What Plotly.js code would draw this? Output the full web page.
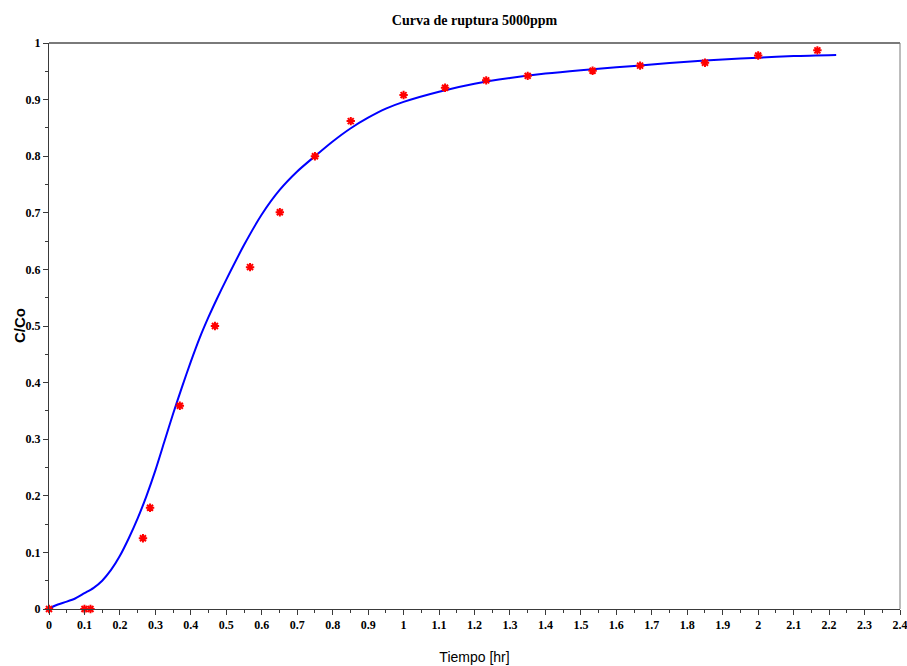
<!DOCTYPE html>
<html>
<head>
<meta charset="utf-8">
<script src="https://cdn.plot.ly/plotly-3.0.1.min.js"></script>
<style>
  html, body { margin: 0; padding: 0; background: #ffffff; }
  #chart { width: 907px; height: 666px; }
</style>
</head>
<body>
<div id="chart"></div>
<script>
// Measured breakthrough data: time [hr] vs C/Co
const tiempoExp = [0, 0.10, 0.117, 0.265, 0.285, 0.369, 0.468, 0.567, 0.651, 0.750,
                   0.851, 1.000, 1.117, 1.233, 1.350, 1.533, 1.667, 1.850, 2.000, 2.167];
const ccoExp    = [0, 0, 0, 0.125, 0.179, 0.359, 0.500, 0.604, 0.701, 0.800,
                   0.862, 0.908, 0.921, 0.934, 0.942, 0.951, 0.960, 0.965, 0.978, 0.987];

// Model breakthrough curve
const tiempoModelo = [0, 0.01, 0.025, 0.05, 0.075, 0.1, 0.125, 0.15, 0.175, 0.2,
                      0.225, 0.25, 0.275, 0.3, 0.325, 0.35, 0.375, 0.4, 0.425, 0.45,
                      0.475, 0.5, 0.55, 0.6, 0.65, 0.7, 0.75, 0.8, 0.85, 0.9,
                      0.95, 1.0, 1.1, 1.2, 1.3, 1.4, 1.5, 1.6, 1.7, 1.8,
                      1.9, 2.0, 2.1, 2.22];
const ccoModelo    = [0, 0.004, 0.008, 0.013, 0.019, 0.028, 0.037, 0.050, 0.069, 0.094,
                      0.125, 0.160, 0.200, 0.245, 0.295, 0.345, 0.392, 0.437, 0.479, 0.516,
                      0.550, 0.582, 0.643, 0.697, 0.740, 0.773, 0.800, 0.826, 0.849, 0.868,
                      0.884, 0.896, 0.914, 0.928, 0.938, 0.946, 0.952, 0.957, 0.962, 0.967,
                      0.971, 0.974, 0.977, 0.979];

const xTicks = [0, 0.1, 0.2, 0.3, 0.4, 0.5, 0.6, 0.7, 0.8, 0.9, 1, 1.1, 1.2,
                1.3, 1.4, 1.5, 1.6, 1.7, 1.8, 1.9, 2, 2.1, 2.2, 2.3, 2.4];
const yTicks = [0, 0.1, 0.2, 0.3, 0.4, 0.5, 0.6, 0.7, 0.8, 0.9, 1];

const serif = 'Liberation Serif, Times New Roman, serif';
const sans = 'Liberation Sans, Arial, sans-serif';

const traces = [
  {
    x: tiempoModelo, y: ccoModelo,
    type: 'scatter', mode: 'lines',
    line: { color: '#0000ff', width: 2, shape: 'spline', smoothing: 0.8 },
    hoverinfo: 'skip', showlegend: false
  },
  {
    x: tiempoExp, y: ccoExp,
    type: 'scatter', mode: 'markers',
    marker: { symbol: 'asterisk-open', size: 7, color: '#ff0000',
              line: { color: '#ff0000', width: 2 } },
    showlegend: false, cliponaxis: false
  }
];

const axisCommon = {
  showgrid: false, zeroline: false, showline: true,
  linecolor: '#3a3a3a', linewidth: 1,
  ticks: 'outside', ticklen: 5, tickwidth: 1, tickcolor: '#3a3a3a',
  tickfont: { family: serif, size: 12, color: '#000000', weight: 'bold' },
  tickmode: 'array',
  ticklabeloverflow: 'allow',
  minor: { ticks: 'outside', ticklen: 3, tickwidth: 1, tickcolor: '#3a3a3a', dtick: 0.05 }
};

const layout = {
  width: 907, height: 666,
  paper_bgcolor: '#ffffff', plot_bgcolor: '#ffffff',
  margin: { l: 49, r: 6.5, t: 43, b: 57 },
  title: {
    text: '<b>Curva de ruptura 5000ppm</b>',
    font: { family: serif, size: 14, color: '#000000' },
    xref: 'paper', x: 0.5, xanchor: 'center',
    yref: 'container', y: 1 - 20 / 666, yanchor: 'middle'
  },
  xaxis: Object.assign({}, axisCommon, {
    range: [0, 2.4],
    tickvals: xTicks,
    ticktext: xTicks.map(String),
    title: { text: 'Tiempo [hr]', standoff: 20,
             font: { family: sans, size: 14, color: '#000000' } }
  }),
  yaxis: Object.assign({}, axisCommon, {
    range: [0, 1],
    tickvals: yTicks,
    ticktext: yTicks.map(String)
  }),
  annotations: [
    // vertical axis label
    { text: '<b>C/Co</b>', xref: 'paper', yref: 'paper',
      x: -30 / 851.5, y: 0.5, xanchor: 'center', yanchor: 'middle',
      textangle: -90, showarrow: false,
      font: { family: sans, size: 15, color: '#000000' } }
  ],
  shapes: [
    // top and right frame edges
    { type: 'line', xref: 'paper', yref: 'paper', x0: 0, x1: 1, y0: 1, y1: 1,
      line: { color: '#7a7a7a', width: 2 } },
    { type: 'line', xref: 'paper', yref: 'paper', x0: 1, x1: 1, y0: 0, y1: 1,
      line: { color: '#7a7a7a', width: 1 } }
  ]
};

Plotly.newPlot('chart', traces, layout, { displayModeBar: false, staticPlot: true });
</script>
</body>
</html>
